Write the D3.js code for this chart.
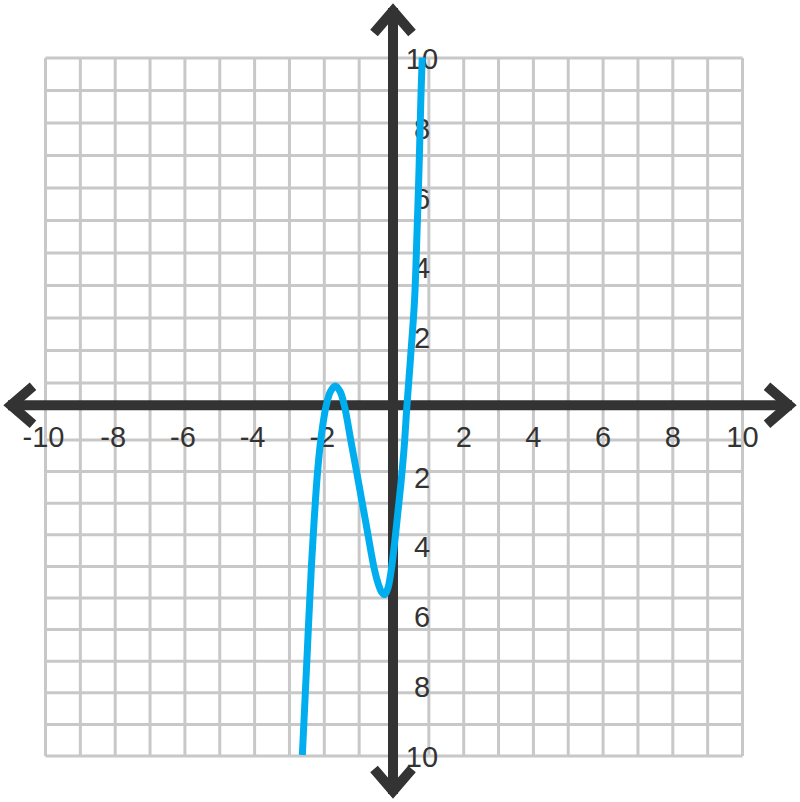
<!DOCTYPE html>
<html>
<head>
<meta charset="utf-8">
<script src="https://cdn.jsdelivr.net/npm/d3@7"></script>
<style>
  html, body { margin: 0; padding: 0; background: #ffffff; }
  svg { display: block; }
</style>
</head>
<body>
<svg id="chart" width="800" height="802"></svg>
<script>
// ---- data ----
const curveX = [-2.63, -2.50, -2.37, -2.19, -2.09, -1.95, -1.82, -1.685, -1.55, -1.42, -1.25, -1.08, -0.82, -0.56, -0.45, -0.36, -0.26, -0.17, -0.08, 0.02, 0.11, 0.20, 0.29, 0.37, 0.47, 0.59, 0.66, 0.72, 0.77, 0.81];
const curveY = [-10, -7.29, -4.6, -1.84, -0.88, 0, 0.43, 0.58, 0.43, 0, -0.92, -1.84, -3.27, -4.69, -5.1, -5.32, -5.4, -5.2, -4.7, -3.9, -3.05, -2.2, -1.2, 0, 1.33, 3.05, 4.97, 6.86, 8.78, 10];
const xTickValues = [-10, -8, -6, -4, -2, 2, 4, 6, 8, 10];
const xTickLabels = ["-10", "-8", "-6", "-4", "-2", "2", "4", "6", "8", "10"];
const yTickValues = [10, 8, 6, 4, 2, -2, -4, -6, -8, -10];
const yTickLabels = ["10", "8", "6", "4", "2", "2", "4", "6", "8", "10"];
const gridCols = d3.range(-10, 11, 1);
const gridRowsUpper = d3.range(0, 11, 1);
const gridRowsLower = d3.range(0, 11, 1);

// ---- scales ----
const x = d3.scaleLinear().domain([-10, 10]).range([45.5, 742.5]);
const y = d3.scaleLinear().domain([-10, 10]).range([755, 57.5]);
const gUpper = d3.scaleLinear().domain([0, 10]).range([58, 383]);
const gLower = d3.scaleLinear().domain([0, 10]).range([440, 756]);

const svg = d3.select("#chart");
const axisColor = "#333333";
const gridColor = "#c8c8c8";
const x0 = x(0) - 1, y0 = y(0) - 1;

// grid
const grid = svg.append("g");
grid.selectAll("line.col").data(gridCols).join("line")
  .attr("x1", d => x(d)).attr("x2", d => x(d))
  .attr("y1", gUpper(0)).attr("y2", gLower(10))
  .attr("stroke", gridColor).attr("stroke-width", 3);
grid.selectAll("line.ru").data(gridRowsUpper).join("line")
  .attr("x1", x(-10)).attr("x2", x(10))
  .attr("y1", d => gUpper(d)).attr("y2", d => gUpper(d))
  .attr("stroke", gridColor).attr("stroke-width", 3);
grid.append("g").selectAll("line").data(gridRowsLower).join("line")
  .attr("x1", x(-10)).attr("x2", x(10))
  .attr("y1", d => gLower(d)).attr("y2", d => gLower(d))
  .attr("stroke", gridColor).attr("stroke-width", 3);

// axes
const ax = svg.append("g").attr("stroke", axisColor).attr("fill", "none")
  .attr("stroke-width", 10).attr("stroke-linejoin", "miter").attr("stroke-miterlimit", 10);
ax.append("line").attr("x1", 8).attr("x2", 792).attr("y1", y0).attr("y2", y0);
ax.append("line").attr("x1", x0).attr("x2", x0).attr("y1", 8).attr("y2", 794);
// arrowheads (chevrons)
ax.append("path").attr("d", `M${33},${y0 - 19} L${11},${y0} L${33},${y0 + 19}`);
ax.append("path").attr("d", `M${767},${y0 - 19} L${789},${y0} L${767},${y0 + 19}`);
ax.append("path").attr("d", `M${x0 - 19},${33} L${x0},${11} L${x0 + 19},${33}`);
ax.append("path").attr("d", `M${x0 - 19},${769} L${x0},${791} L${x0 + 19},${769}`);

// labels
const lab = svg.append("g").attr("fill", axisColor)
  .attr("font-family", "'Liberation Sans', Arial, sans-serif").attr("font-size", 29);
lab.selectAll("text.x").data(xTickValues).join("text")
  .attr("x", d => x(d) - (d < 0 ? 2 : 0)).attr("y", y0 + 42)
  .attr("text-anchor", "middle")
  .text((d, i) => xTickLabels[i]);
lab.append("g").selectAll("text").data(yTickValues).join("text")
  .attr("x", x0 + 29).attr("y", d => y(d) + 1.5)
  .attr("text-anchor", "middle").attr("dominant-baseline", "central")
  .text((d, i) => yTickLabels[i]);

// curve
const pts = curveX.map((v, i) => [v, curveY[i]]);
const line = d3.line().x(d => x(d[0])).y(d => y(d[1])).curve(d3.curveCatmullRom.alpha(0.5));
svg.append("path").datum(pts).attr("d", line)
  .attr("fill", "none").attr("stroke", "#00aeef").attr("stroke-width", 7)
  .attr("stroke-linejoin", "round");
</script>
</body>
</html>
